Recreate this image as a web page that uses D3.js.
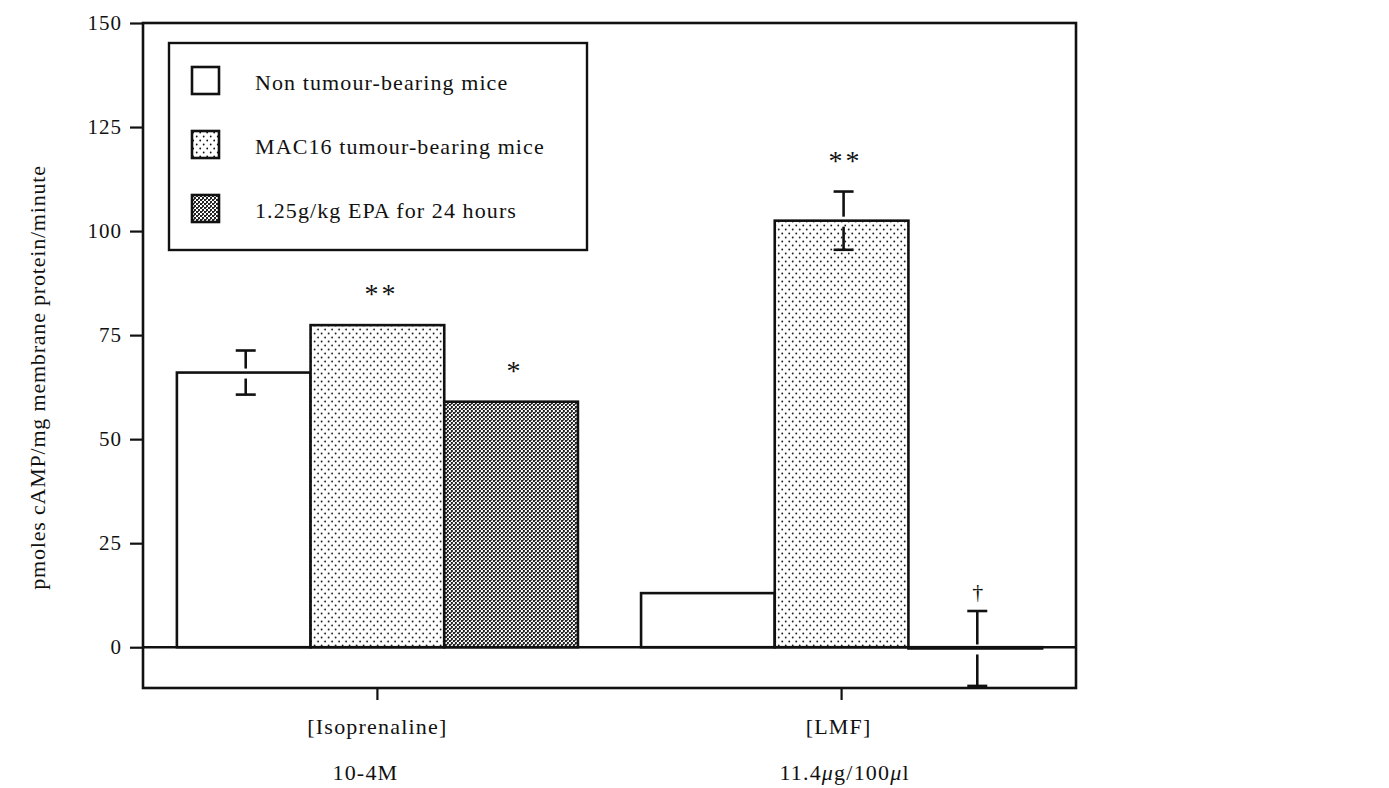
<!DOCTYPE html>
<html>
<head>
<meta charset="utf-8">
<script src="https://cdn.jsdelivr.net/npm/d3@7"></script>
<style>
  body { margin: 0; background: #fff; }
  text { font-family: "Liberation Serif", "Times New Roman", serif; fill: #111; }
</style>
</head>
<body>
<div id="chart"></div>
<script>
// data
var groups = ["[Isoprenaline]", "[LMF]"];
var doses = ["10-4M", "11.4μg/100μl"];
var seriesNames = ["Non tumour-bearing  mice", "MAC16 tumour-bearing mice", "1.25g/kg EPA for 24 hours"];
var isoValues = [66, 77.4, 59];
var isoErrors = [5.3, 0, 0];
var isoMarks = ["", "**", "*"];
var lmfValues = [13, 102.5, -0.3];
var lmfErrors = [0, 7, 9];
var lmfMarks = ["", "**", "†"];
var yTicks = [0, 25, 50, 75, 100, 125, 150];

var rows = [
  {group: groups[0], dose: doses[0], values: isoValues, errors: isoErrors, marks: isoMarks},
  {group: groups[1], dose: doses[1], values: lmfValues, errors: lmfErrors, marks: lmfMarks}
];

var width = 1389, height = 788;
var plot = {left: 143, right: 1076, top: 23, bottom: 688};

var svg = d3.select("#chart").append("svg")
  .attr("width", width)
  .attr("height", height);

var defs = svg.append("defs");
var dots = defs.append("pattern")
  .attr("id", "dots")
  .attr("patternUnits", "userSpaceOnUse")
  .attr("width", 7).attr("height", 8);
dots.append("rect").attr("width", 7).attr("height", 8).attr("fill", "#fff");
dots.append("circle").attr("cx", 1.2).attr("cy", 1.5).attr("r", 0.9).attr("fill", "#111");
dots.append("circle").attr("cx", 4.7).attr("cy", 5.5).attr("r", 0.9).attr("fill", "#111");

var checks = defs.append("pattern")
  .attr("id", "checks")
  .attr("patternUnits", "userSpaceOnUse")
  .attr("width", 4).attr("height", 4);
checks.append("rect").attr("width", 4).attr("height", 4).attr("fill", "#fff");
checks.append("rect").attr("width", 2).attr("height", 2).attr("fill", "#222");
checks.append("rect").attr("x", 2).attr("y", 2).attr("width", 2).attr("height", 2).attr("fill", "#222");
checks.append("rect").attr("x", 2).attr("y", 0).attr("width", 1).attr("height", 1).attr("fill", "#555");

var fills = ["#fff", "url(#dots)", "url(#checks)"];

var y = d3.scaleLinear()
  .domain([-9.8, 150])
  .range([plot.bottom, plot.top]);

var x0 = d3.scaleBand()
  .domain(groups)
  .range([plot.left, plot.right])
  .paddingInner(0.136)
  .paddingOuter(0.073);

var x1 = d3.scaleBand()
  .domain(d3.range(seriesNames.length))
  .range([0, x0.bandwidth()]);

// bars
var g = svg.selectAll(".grp")
  .data(rows)
  .enter().append("g")
  .attr("class", "grp")
  .attr("transform", function(d){ return "translate(" + x0(d.group) + ",0)"; });

g.selectAll("rect")
  .data(function(d){ return d.values.map(function(v, i){ return {v: v, i: i}; }); })
  .enter().append("rect")
  .attr("x", function(d){ return x1(d.i); })
  .attr("width", x1.bandwidth())
  .attr("y", function(d){ return y(Math.max(0, d.v)); })
  .attr("height", function(d){ return Math.abs(y(d.v) - y(0)); })
  .attr("fill", function(d){ return fills[d.i]; })
  .attr("stroke", "#111")
  .attr("stroke-width", 2.6);

// error bars (T above, inverted T below, small gap at the bar edge)
var capW = 10;
g.each(function(d){
  var sel = d3.select(this);
  d.errors.forEach(function(e, i){
    if (!e) return;
    var cx = x1(i) + x1.bandwidth() / 2 + 2;
    var v = d.values[i];
    var top = y(v + e), mid = y(v), bot = y(v - e);
    sel.append("line").attr("x1", cx).attr("x2", cx).attr("y1", top).attr("y2", mid - 4)
      .attr("stroke", "#111").attr("stroke-width", 2.6);
    sel.append("line").attr("x1", cx - capW).attr("x2", cx + capW).attr("y1", top).attr("y2", top)
      .attr("stroke", "#111").attr("stroke-width", 2.6);
    sel.append("line").attr("x1", cx).attr("x2", cx).attr("y1", mid + 6).attr("y2", bot)
      .attr("stroke", "#111").attr("stroke-width", 2.6);
    sel.append("line").attr("x1", cx - capW).attr("x2", cx + capW).attr("y1", bot).attr("y2", bot)
      .attr("stroke", "#111").attr("stroke-width", 2.6);
  });
  d.marks.forEach(function(m, i){
    if (!m) return;
    var v = d.values[i] + (d.errors[i] || 0);
    sel.append("text")
      .attr("x", x1(i) + x1.bandwidth() / 2 + 4)
      .attr("y", y(Math.max(v, 0)) - (m == "†" ? 12 : 22))
      .attr("text-anchor", "middle")
      .style("font-size", m == "†" ? "22px" : "28px")
      .style("letter-spacing", "3px")
      .text(m);
  });
});

// zero line
svg.append("line")
  .attr("x1", plot.left).attr("x2", plot.right)
  .attr("y1", y(0)).attr("y2", y(0))
  .attr("stroke", "#111").attr("stroke-width", 2.4);

// frame
svg.append("rect")
  .attr("x", plot.left).attr("y", plot.top)
  .attr("width", plot.right - plot.left)
  .attr("height", plot.bottom - plot.top)
  .attr("fill", "none")
  .attr("stroke", "#111")
  .attr("stroke-width", 2.6);

// y axis
var yAxis = svg.append("g")
  .attr("transform", "translate(" + plot.left + ",0)")
  .call(d3.axisLeft(y).tickValues(yTicks).tickSize(13).tickPadding(8));
yAxis.select(".domain").remove();
yAxis.selectAll("line").attr("stroke", "#111").attr("stroke-width", 2.2);
yAxis.selectAll("text")
  .style("font-size", "21px")
  .style("font-family", "'Liberation Serif', serif")
  .style("letter-spacing", "1px")
  .attr("fill", "#111");

// x axis
var xAxis = svg.append("g")
  .attr("transform", "translate(0," + plot.bottom + ")")
  .call(d3.axisBottom(x0).tickSize(12).tickPadding(18));
xAxis.select(".domain").remove();
xAxis.selectAll("line").attr("stroke", "#111").attr("stroke-width", 2.2);
xAxis.selectAll("text")
  .style("font-size", "22px")
  .style("font-family", "'Liberation Serif', serif")
  .style("letter-spacing", "1.2px")
  .attr("x", function(d, i){ return i == 0 ? 0 : -3; })
  .attr("fill", "#111");

xAxis.selectAll(".tick").each(function(d, i){
  var t = d3.select(this).append("text")
    .attr("y", 92)
    .attr("x", i == 0 ? -12 : 3)
    .attr("text-anchor", "middle")
    .attr("fill", "#111")
    .style("font-size", "22px")
    .style("font-family", "'Liberation Serif', serif")
    .style("letter-spacing", "1.2px");
  doses[i].split("μ").forEach(function(part, k){
    if (k > 0) t.append("tspan").style("font-style", "italic").text("μ");
    t.append("tspan").text(part);
  });
});

// y axis title
svg.append("text")
  .attr("transform", "translate(45," + ((plot.top + plot.bottom) / 2 + 22) + ") rotate(-90)")
  .attr("text-anchor", "middle")
  .style("font-size", "22px")
  .style("letter-spacing", "0.8px")
  .text("pmoles cAMP/mg membrane protein/minute");

// legend
var legend = svg.append("g").attr("transform", "translate(169,43)");
legend.append("rect")
  .attr("width", 418).attr("height", 207)
  .attr("fill", "#fff")
  .attr("stroke", "#111")
  .attr("stroke-width", 2.4);

var items = legend.selectAll(".item")
  .data(seriesNames)
  .enter().append("g")
  .attr("class", "item")
  .attr("transform", function(d, i){ return "translate(23," + (24 + i * 64) + ")"; });
items.append("rect")
  .attr("width", 27).attr("height", 27)
  .attr("fill", function(d, i){ return fills[i]; })
  .attr("stroke", "#111")
  .attr("stroke-width", 2.6);
items.append("text")
  .attr("x", 63)
  .attr("y", 23)
  .style("font-size", "22px")
  .style("letter-spacing", "1.1px")
  .text(function(d){ return d; });
</script>
</body>
</html>
